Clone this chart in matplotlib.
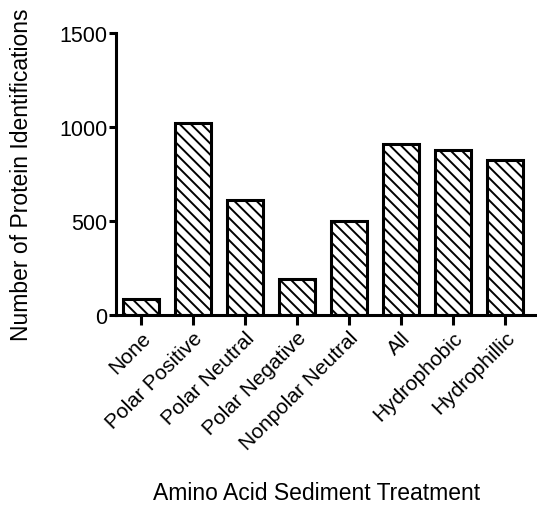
import matplotlib
matplotlib.use("Agg")
import matplotlib.pyplot as plt

plt.rcParams['font.family'] = ['Liberation Sans', 'DejaVu Sans']
plt.rcParams['hatch.linewidth'] = 1.4

treatments = ["None", "Polar Positive", "Polar Neutral", "Polar Negative",
              "Nonpolar Neutral", "All", "Hydrophobic", "Hydrophillic"]
protein_ids = [85, 1020, 615, 190, 500, 910, 880, 826]


def plot(labels, values):
    fig = plt.figure(figsize=(5.37, 5.10), dpi=100)
    ax = fig.add_axes([0.216, 0.380, 0.780, 0.553])

    x = range(len(labels))
    ax.bar(x, values, width=0.69, color="white", edgecolor="black",
           linewidth=2.2, hatch="\\\\\\", zorder=2)

    ax.set_xlim(-0.48, 7.58)
    ax.set_ylim(0, 1500)
    ax.set_yticks([0, 500, 1000, 1500])

    for side in ("top", "right"):
        ax.spines[side].set_visible(False)
    for side in ("left", "bottom"):
        ax.spines[side].set_linewidth(2.2)

    ax.tick_params(axis="y", width=2.2, length=5, labelsize=15.5, pad=1)
    ax.tick_params(axis="x", width=2.2, length=7, labelsize=15, pad=2)
    ax.set_xticks(list(x))
    ax.set_xticklabels(labels, rotation=45, ha="right", rotation_mode="anchor")

    ax.set_ylabel("Number of Protein Identifications", fontsize=16.5, labelpad=19)
    fig.text(0.590, 0.033, "Amino Acid Sediment Treatment", fontsize=16.5,
             ha="center", va="center")

    fig.savefig("out.png", dpi=100)


def main():
    plot(treatments, protein_ids)


if __name__ == '__main__':
    main()
